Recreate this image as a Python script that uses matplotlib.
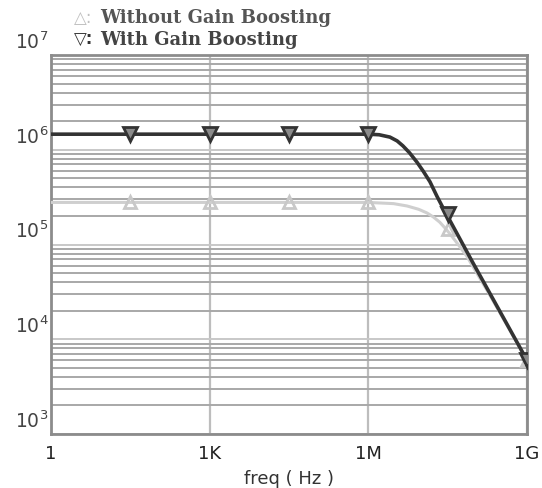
import numpy as np
import matplotlib
matplotlib.use('Agg')
import matplotlib.pyplot as plt
from matplotlib.ticker import LogLocator, FixedLocator, NullFormatter
import matplotlib.transforms as mtransforms

# curve points (freq in Hz, gain in V/V)
freq_with = [1, 1e3, 1e6, 1.6e6, 2.56e6, 3.5e6, 4.5e6, 6e6, 8.3e6, 1.1e7, 1.46e7,
             2.0e7, 2.57e7, 9.5e7, 3.1e8, 1e9]
gain_with = [1.46e6, 1.46e6, 1.46e6, 1.44e6, 1.36e6, 1.24e6, 1.10e6, 9.3e5, 7.4e5,
             5.9e5, 4.6e5, 3.2e5, 2.45e5, 6.4e4, 1.95e4, 6.0e3]

freq_without = [1, 1e3, 1e6, 3e6, 5.4e6, 9e6, 1.29e7, 1.7e7, 2.24e7, 2.8e7, 3.47e7,
                4.5e7, 7.2e7, 2.0e8, 1e9]
gain_without = [2.78e5, 2.78e5, 2.78e5, 2.7e5, 2.55e5, 2.35e5, 2.15e5, 1.95e5, 1.72e5,
                1.5e5, 1.3e5, 1.08e5, 7.6e4, 2.9e4, 6.0e3]

# marker positions (every 1.5 decades)
mk_freq = [31.6, 1e3, 3.16e4, 1e6, 3.16e7, 1e9]
mk_with = [1.46e6, 1.46e6, 1.46e6, 1.46e6, 2.1e5, 6.0e3]
mk_without = [2.78e5, 2.78e5, 2.78e5, 2.78e5, 1.45e5, 6.0e3]

xticks = [1, 1e3, 1e6, 1e9]
xlabels = ['1', '1K', '1M', '1G']
yticks = [1e3, 1e4, 1e5, 1e6, 1e7]
ylabels = ['$10^3$', '$10^4$', '$10^5$', '$10^6$', '$10^7$']

fig = plt.figure(figsize=(5.42, 4.88), dpi=100)
ax = fig.add_axes([51/542, 1-434/488, 476/542, 379/488])
ax.set_xscale('log')
ax.set_yscale('log')
ax.set_xlim(1, 1e9)
ax.set_ylim(1e3, 1e7)

# grid
ax.yaxis.set_minor_locator(LogLocator(base=10, subs=np.arange(2, 10)))
ax.yaxis.set_minor_formatter(NullFormatter())
ax.xaxis.set_minor_locator(FixedLocator([]))
ax.grid(True, which='major', axis='x', color='#bdbdbd', lw=1.6)
ax.grid(True, which='minor', axis='y', color='#a8a8a8', lw=1.4)
ax.grid(True, which='major', axis='y', color='#c8c8c8', lw=1.4)

# curves
ax.plot(freq_without, gain_without, color='#cfcfcf', lw=2.2, zorder=3)
ax.plot(mk_freq, mk_without, ls='none', marker='^', ms=9, mfc='none',
        mec='#c8c8c8', mew=2, zorder=4)
ax.plot(freq_with, gain_with, color='#333333', lw=2.6, zorder=5)
ax.plot(mk_freq, mk_with, ls='none', marker='v', ms=10, mfc='#8a8a8a',
        mec='#333333', mew=2, zorder=6)

for s in ax.spines.values():
    s.set_color('#8c8c8c')
    s.set_linewidth(2)

ax.set_xticks(xticks)
ax.set_xticklabels(xlabels)
ax.set_yticks(yticks)
ax.set_yticklabels(ylabels)
ax.tick_params(which='both', length=0)
ax.tick_params(axis='x', labelsize=13, colors='#222222', pad=8)
ax.tick_params(axis='y', labelsize=13.5, colors='#444444', pad=2)
offset = mtransforms.ScaledTranslation(0, 1.5/72, fig.dpi_scale_trans)
for lab in ax.get_yticklabels():
    lab.set_verticalalignment('bottom')
    lab.set_transform(lab.get_transform() + offset)

ax.set_xlabel('freq ( Hz )', fontsize=13, color='#333333', labelpad=5)

# legend at top, drawn as text like the simulator does
fig.text(74/542, 1-18/488, '\u25b3:', fontsize=12, color='#c0c0c0',
         va='center', family=['DejaVu Sans'])
fig.text(100/542, 1-18/488, 'Without Gain Boosting', fontsize=13,
         color='#555555', va='center', family='DejaVu Serif', weight='bold')
fig.text(74/542, 1-40/488, '\u25bd:', fontsize=12, color='#333333',
         va='center', family=['DejaVu Sans'], weight='bold')
fig.text(100/542, 1-40/488, 'With Gain Boosting', fontsize=13,
         color='#444444', va='center', family='DejaVu Serif', weight='bold')

fig.savefig('out.png', dpi=100)
